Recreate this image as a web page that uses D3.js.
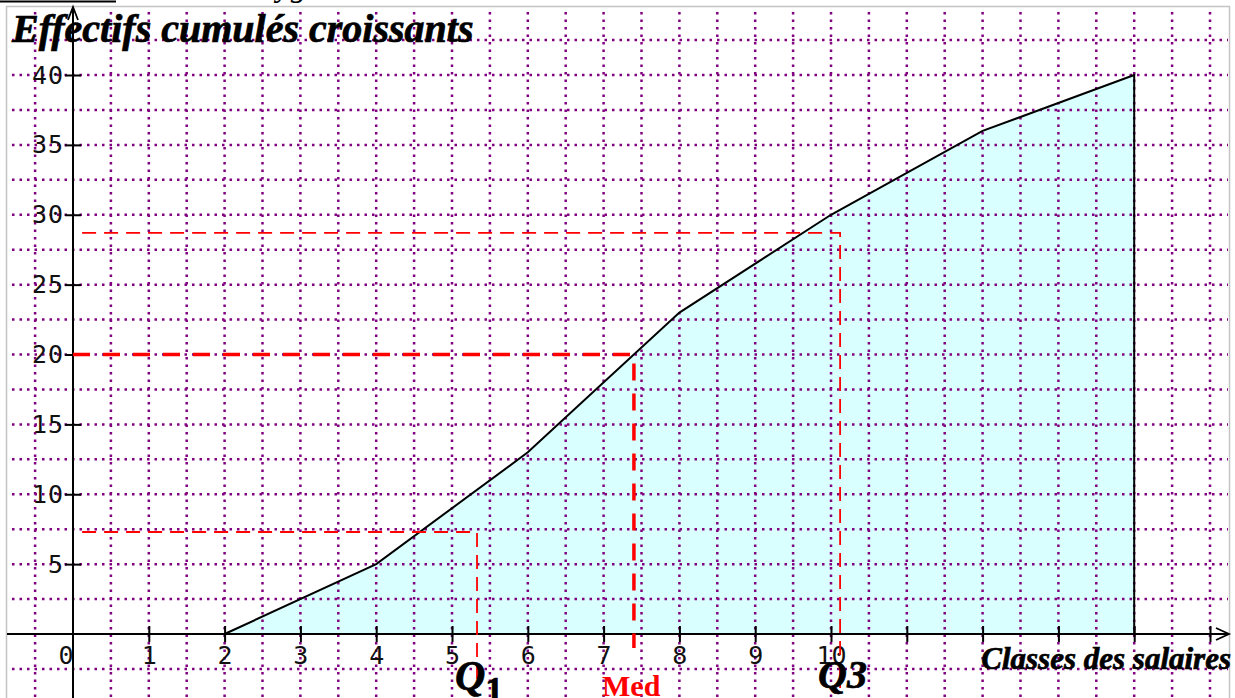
<!DOCTYPE html>
<html>
<head>
<meta charset="utf-8">
<script src="https://cdn.jsdelivr.net/npm/d3@7"></script>
<style>
  body { margin: 0; background: #fff; }
  svg { display: block; }
  .tick text { font-family: "DejaVu Sans Mono", monospace; font-size: 25px; fill: #111; }
  .big { font-family: "Liberation Serif", "Times New Roman", serif; font-weight: bold; font-style: italic; stroke: #000; stroke-width: 0.7px; }
</style>
</head>
<body>
<svg width="1235" height="698"></svg>
<script>
// polygone des effectifs cumules croissants
var classes = [2, 4, 6, 8, 10, 12, 14];
var cumul = [0, 5, 13, 23, 30, 36, 40];
var yTicks = [5, 10, 15, 20, 25, 30, 35, 40];
var xTicks = [1, 2, 3, 4, 5, 6, 7, 8, 9, 10, 11, 12, 13, 14, 15];
var xLabels = ["0", "1", "2", "3", "4", "5", "6", "7", "8", "9", "10"];
var qNames = ["Q1", "Med", "Q3"];
var qX = [5.33, 7.4, 10.12];
var qY = [7.3, 20, 28.7];

var svg = d3.select("svg"),
    width = +svg.attr("width"),
    height = +svg.attr("height");

var x = d3.scaleLinear().domain([0, 15]).range([73, 1210]);
var y = d3.scaleLinear().domain([0, 40]).range([634, 75]);

// cadre
svg.append("rect")
    .attr("x", 6.5).attr("y", 6.5)
    .attr("width", 1223).attr("height", 700)
    .attr("fill", "none").attr("stroke", "#c4c4c4").attr("stroke-width", 1.5);

// bout de titre coupe en haut
svg.append("line")
    .attr("x1", 0).attr("x2", 116).attr("y1", 1.5).attr("y2", 1.5)
    .attr("stroke", "#000").attr("stroke-width", 2);
svg.append("text")
    .attr("x", 232).attr("y", -4)
    .attr("font-family", "Liberation Serif").attr("font-style", "italic")
    .attr("font-size", 32)
    .text("Polygone");

// surface sous le polygone
var pts = classes.map(function(c, i) { return [c, cumul[i]]; });
var areaPts = pts.concat([[14, 0]]);
svg.append("path")
    .datum(areaPts)
    .attr("d", d3.line().x(function(d) { return x(d[0]); }).y(function(d) { return y(d[1]); }))
    .attr("fill", "#d9ffff");

// grille pointillee
var grid = svg.append("g").attr("stroke", "#800080").attr("stroke-width", 2.5)
    .attr("stroke-dasharray", "2.5,5");
grid.selectAll(".gv")
    .data(d3.range(-0.5, 15.01, 0.5).filter(function(d) { return d !== 0; }))
    .enter().append("line")
    .attr("x1", function(d) { return x(d); }).attr("x2", function(d) { return x(d); })
    .attr("y1", 12).attr("y2", height);
grid.selectAll(".gh")
    .data(d3.range(-2.5, 42.51, 2.5).filter(function(d) { return d !== 0; }))
    .enter().append("line")
    .attr("y1", function(d) { return y(d); }).attr("y2", function(d) { return y(d); })
    .attr("x1", 12).attr("x2", 1228);

// axes
var xAxis = svg.append("g")
    .attr("transform", "translate(0," + y(0) + ")")
    .call(d3.axisBottom(x).tickValues(xTicks).tickSize(8)
        .tickFormat(function(d) { return d <= 10 ? xLabels[d] : ""; }));
xAxis.select(".domain").remove();
xAxis.selectAll(".tick line").attr("y1", -8).attr("y2", 8).attr("stroke-width", 2);
xAxis.selectAll(".tick text").attr("y", 12).attr("dy", "0.71em");
xAxis.append("text")
    .attr("x", x(0) - 7).attr("y", 12).attr("dy", "0.71em")
    .attr("text-anchor", "middle")
    .attr("font-family", "DejaVu Sans Mono").attr("font-size", 25).attr("fill", "#111")
    .text(xLabels[0]);

var yAxis = svg.append("g")
    .attr("transform", "translate(" + x(0) + ",0)")
    .call(d3.axisLeft(y).tickValues(yTicks).tickSize(8));
yAxis.select(".domain").remove();
yAxis.selectAll(".tick line").attr("x1", -8).attr("x2", 8).attr("stroke-width", 2);
yAxis.selectAll(".tick text").attr("x", -9).attr("letter-spacing", 1);

svg.append("line")
    .attr("x1", 7).attr("x2", 1228).attr("y1", y(0)).attr("y2", y(0))
    .attr("stroke", "#000").attr("stroke-width", 2);
svg.append("path")
    .attr("d", "M1216," + (y(0) - 6) + "L1229," + y(0) + "L1216," + (y(0) + 6))
    .attr("fill", "none").attr("stroke", "#000").attr("stroke-width", 1.8);
svg.append("line")
    .attr("x1", x(0)).attr("x2", x(0)).attr("y1", 8).attr("y2", height)
    .attr("stroke", "#000").attr("stroke-width", 2);
svg.append("path")
    .attr("d", "M" + (x(0) - 5) + ",20L" + x(0) + ",7L" + (x(0) + 5) + ",20")
    .attr("fill", "none").attr("stroke", "#000").attr("stroke-width", 1.8);

// polygone
svg.append("path")
    .datum(pts.concat([[14, 0]]))
    .attr("d", d3.line().x(function(d) { return x(d[0]); }).y(function(d) { return y(d[1]); }))
    .attr("fill", "none").attr("stroke", "#000").attr("stroke-width", 2);

// quartiles et mediane
var qEnd = [688, 648, 688];
var qStart = [1, 0, 1];
qNames.forEach(function(n, i) {
    var isMed = n === "Med";
    svg.append("path")
        .attr("d", "M" + x(qStart[i] ? 0.12 : 0) + "," + y(qY[i]) + "H" + x(qX[i]) + "V" + qEnd[i])
        .attr("fill", "none").attr("stroke", "#ff0000")
        .attr("stroke-width", isMed ? 3.5 : 1.8)
        .attr("stroke-dasharray", isMed ? "17,13" : "14,8");
});

// titres
svg.append("text").attr("class", "big")
    .attr("x", 12).attr("y", 42).attr("font-size", 40)
    .text("Effectifs cumulés croissants");
svg.append("text").attr("class", "big")
    .attr("x", 1231).attr("y", 669).attr("text-anchor", "end").attr("font-size", 31)
    .text("Classes des salaires");

var q1 = svg.append("text").attr("class", "big")
    .attr("x", 455).attr("y", 690).attr("font-size", 42);
q1.append("tspan").text("Q");
q1.append("tspan").attr("dy", 12).attr("font-style", "normal").attr("font-size", 36).text("1");
svg.append("text")
    .attr("x", 602).attr("y", 696)
    .attr("font-family", "Liberation Serif").attr("font-weight", "bold")
    .attr("font-size", 30).attr("fill", "#ff0000")
    .text("Med");
svg.append("text").attr("class", "big")
    .attr("x", 818).attr("y", 688).attr("font-size", 40)
    .text("Q3");
</script>
</body>
</html>
